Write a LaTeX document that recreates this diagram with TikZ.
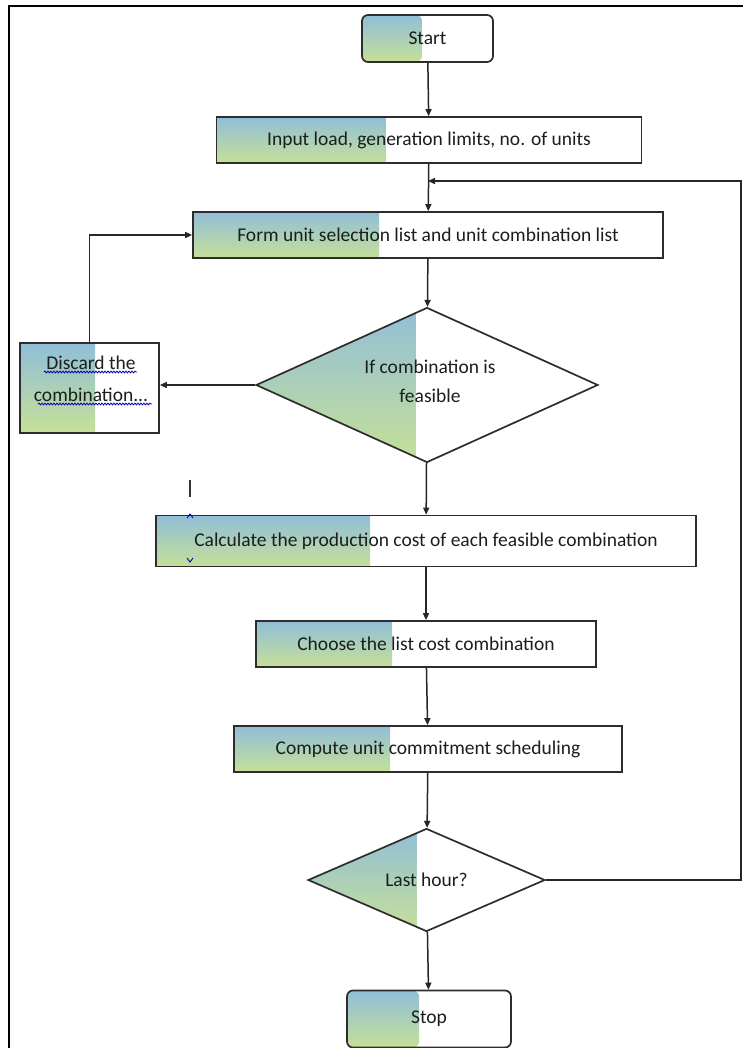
\documentclass[tikz,border=0pt]{standalone}
\usepackage{fontspec}
\setmainfont{Carlito}
\usetikzlibrary{shapes.geometric,arrows.meta,decorations.pathmorphing}
\definecolor{gtop}{RGB}{145,190,215}
\definecolor{gbot}{RGB}{198,224,152}
\definecolor{edge}{RGB}{45,45,45}
\definecolor{ink}{RGB}{25,30,30}
\begin{document}
\begin{tikzpicture}[x=1pt,y=-1pt,
  box/.style={draw=edge, line width=1.7pt, fill=white, inner sep=0pt,
    font=\fontsize{19.5}{22}\selectfont, text=ink},
  txt/.style={inner sep=0pt, font=\fontsize{19.5}{22}\selectfont, text=ink, align=center},
  gfill/.style={path picture={\shade[top color=gtop,bottom color=gbot]
    (path picture bounding box.north west) rectangle
    ([xshift=#1pt]path picture bounding box.south west);}},
  dia/.style={box, diamond, aspect=2.2},
  arr/.style={draw=black!85, line width=1.5pt, -{Triangle[length=7pt,width=6pt]}},
  wavy/.style={draw=blue!70!black, line width=0.8pt, decorate,
    decoration={snake, segment length=3pt, amplitude=0.9pt}}]
\useasboundingbox (0,0) rectangle (743,1048);
\fill[white] (0,0) rectangle (743,1048);
\draw[line width=1.3pt] (9,1048) -- (9,6) -- (743,6);

\node[box, rounded corners=6pt, minimum width=131pt, minimum height=47pt, gfill=60] (start) at (427.5,38.5) {Start};
\node[box, minimum width=425pt, minimum height=46pt, gfill=169] (input) at (429,140) {Input load, generation limits, no. of units};
\node[box, minimum width=470pt, minimum height=46pt, gfill=186] (form) at (428,235) {Form unit selection list and unit combination list};
\node[dia, minimum width=342pt, minimum height=155pt, gfill=159] (d1) at (427,385) {};
\node[txt, font=\fontsize{19.5}{29}\selectfont] (d1lbl) at (430,381) {If combination is\\feasible};
\node[box, minimum width=139pt, minimum height=90pt, gfill=75] (discard) at (89.5,388) {};
\node[txt, font=\fontsize{19.5}{32}\selectfont] (discardlbl) at (91,379) {Discard the\\combination...};
\node[box, minimum width=540pt, minimum height=51pt, gfill=214] (calc) at (426,541) {Calculate the production cost of each feasible combination};
\node[box, minimum width=340pt, minimum height=46pt, gfill=136] (choose) at (426,644) {Choose the list cost combination};
\node[box, minimum width=388pt, minimum height=46pt, gfill=156] (compute) at (428,749) {Compute unit commitment scheduling};
\node[dia, minimum width=237pt, minimum height=103pt, gfill=108] (d2) at (426.5,880) {Last hour?};
\node[box, rounded corners=6pt, minimum width=164pt, minimum height=57pt, gfill=72] (stop) at (429,1019) {Stop};

\coordinate (join) at (428,181);
\coordinate (rt) at (741,880);

\draw[arr] (start) -- (input);
\draw[arr] (input) -- (form);
\draw[arr] (d2.east) -- (rt) |- (join);
\draw[arr] (form) -- (d1);
\draw[arr] (d1.west) -- (d1.west -| discard.east);
\draw[arr] (discard.north) |- (form.west);
\draw[arr] (d1) -- (calc);
\draw[arr] (calc) -- (choose);
\draw[arr] (choose) -- (compute);
\draw[arr] (compute) -- (d2);
\draw[arr] (d2) -- (stop);

% spell-check underlines
\draw[wavy] (44,372) -- (137,372);
\draw[wavy] (38,404) -- (152,404);
% cursor marks
\draw[line width=1.3pt, black!80] (190,480) -- (190,497);
\draw[line width=0.9pt, blue!70!black] (187,518) -- (190,514) -- (193,518);
\draw[line width=0.9pt, blue!70!black] (187,558) -- (190,562) -- (193,558);
\end{tikzpicture}
\end{document}
